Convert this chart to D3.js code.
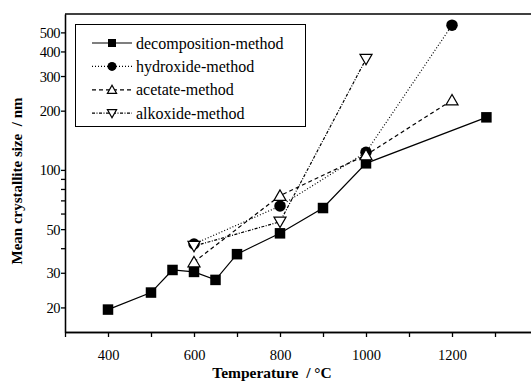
<!DOCTYPE html>
<html>
<head>
<meta charset="utf-8">
<script src="https://cdn.jsdelivr.net/npm/d3@7"></script>
<style>
  body { margin: 0; background: #fff; }
  svg, svg text { font-family: "Liberation Serif", "Times New Roman", Tinos, Times, "DejaVu Serif", serif !important; }
  .title { white-space: pre; font-weight: bold; }
</style>
</head>
<body>
<svg id="chart" width="531" height="383"></svg>
<script>
// data
var decompT = [400, 500, 550, 600, 650, 700, 800, 900, 1000, 1280];
var decompSize = [19.5, 23.8, 31, 30.3, 27.6, 37.3, 47.6, 64, 108, 185];

var hydroT = [600, 800, 1000, 1200];
var hydroSize = [42, 65.5, 123, 544];

var acetT = [600, 800, 1000, 1200];
var acetSize = [34, 74, 119, 226];

var alkT = [600, 800, 1000];
var alkSize = [41, 54.5, 366];

var xTicks = [400, 600, 800, 1000, 1200];
var xMinor = [300, 500, 700, 900, 1100, 1300];
var yTicks = [20, 30, 50, 100, 200, 300, 400, 500];
var yMinor = [40, 60, 70, 80, 90];

var series = [
    {name: "decomposition-method", t: decompT, v: decompSize, dash: null, marker: "square"},
    {name: "hydroxide-method", t: hydroT, v: hydroSize, dash: "1,2", marker: "circle"},
    {name: "acetate-method", t: acetT, v: acetSize, dash: "4,3", marker: "up"},
    {name: "alkoxide-method", t: alkT, v: alkSize, dash: "3,1.5,1,1.5", marker: "down"}
];

var svg = d3.select("#chart");

var x = d3.scaleLinear().domain([300, 1400]).range([65, 538]);
var y = d3.scaleLog().domain([15, 620]).range([332, 14]);

// frame: top line + axes
svg.append("line").attr("x1", 65).attr("x2", 531).attr("y1", 14).attr("y2", 14)
    .attr("stroke", "#000").attr("stroke-width", 1.3);

var xAxis = svg.append("g").attr("transform", "translate(0,332)")
    .call(d3.axisBottom(x).tickValues(xTicks).tickSize(5).tickSizeOuter(0).tickFormat(d3.format("d")));
var xMin = svg.append("g").attr("transform", "translate(0,332)")
    .call(d3.axisBottom(x).tickValues(xMinor).tickSize(5).tickSizeOuter(0).tickFormat(""));
var yAxis = svg.append("g").attr("transform", "translate(65,0)")
    .call(d3.axisLeft(y).tickValues(yTicks).tickSize(4).tickSizeOuter(0).tickFormat(d3.format("d")));
var yMin = svg.append("g").attr("transform", "translate(65,0)")
    .call(d3.axisLeft(y).tickValues(yMinor).tickSize(4).tickSizeOuter(0).tickFormat(""));

[xAxis, xMin, yAxis, yMin].forEach(function(g){
    g.attr("font-family", null);
    g.selectAll("path").attr("stroke", "#000").attr("stroke-width", 1.3);
    g.selectAll("line").attr("stroke", "#000").attr("stroke-width", 1.3);
    g.selectAll("text").attr("fill", "#000").style("font-size", "14.5px");
});
xAxis.selectAll("text").attr("dy", "1.35em");
yAxis.selectAll("text").attr("x", -5).attr("dy", "0.35em").style("letter-spacing", "-0.5px");

// axis titles
svg.append("text").attr("class", "title").attr("x", 272).attr("y", 378).attr("text-anchor", "middle")
    .style("font-size", "15.5px")
    .text("Temperature  / \u00B0C");
svg.append("text").attr("class", "title").attr("transform", "translate(22,181) rotate(-90)").attr("text-anchor", "middle")
    .style("font-size", "15px")
    .text("Mean crystallite size  / nm");

// marker drawing
function drawMarker(g, type, cx, cy, s){
    if(type === "square"){
        g.append("rect").attr("x", cx - s/2).attr("y", cy - s/2).attr("width", s).attr("height", s)
            .attr("fill", "#000");
    }else if(type === "circle"){
        g.append("circle").attr("cx", cx).attr("cy", cy).attr("r", s/2 + 0.5).attr("fill", "#000");
    }else{
        var h = s * 0.9, w = s * 1.15;
        var pts = type === "up"
            ? [[cx, cy - h/2 - 1], [cx - w/2, cy + h/2], [cx + w/2, cy + h/2]]
            : [[cx, cy + h/2 + 1], [cx - w/2, cy - h/2], [cx + w/2, cy - h/2]];
        g.append("polygon").attr("points", pts.map(function(p){ return p.join(","); }).join(" "))
            .attr("fill", "#fff").attr("stroke", "#000").attr("stroke-width", 1.2);
    }
}

var line = d3.line().x(function(d){ return x(d[0]); }).y(function(d){ return y(d[1]); });

// lines first, then markers on top
series.forEach(function(s){
    var pts = s.t.map(function(t, i){ return [t, s.v[i]]; });
    svg.append("path").datum(pts).attr("d", line)
        .attr("fill", "none").attr("stroke", "#000").attr("stroke-width", 1.2)
        .attr("stroke-dasharray", s.dash);
});
series.forEach(function(s){
    var g = svg.append("g");
    s.t.forEach(function(t, i){
        drawMarker(g, s.marker, x(t), y(s.v[i]), 10.5);
    });
});

// legend
var lg = svg.append("g");
lg.append("rect").attr("x", 75.5).attr("y", 24.5).attr("width", 230).attr("height", 102)
    .attr("fill", "#fff").attr("stroke", "#000").attr("stroke-width", 1);
series.forEach(function(s, i){
    var ly = 43 + i * 23.4;
    lg.append("line").attr("x1", 92).attr("x2", 132).attr("y1", ly).attr("y2", ly)
        .attr("stroke", "#000").attr("stroke-width", 1.2).attr("stroke-dasharray", s.dash);
    drawMarker(lg, s.marker, 112, ly, 8);
    lg.append("text").attr("x", 136).attr("y", ly).attr("dy", "0.35em")
        .style("font-size", "16px").text(s.name);
});
</script>
</body>
</html>
